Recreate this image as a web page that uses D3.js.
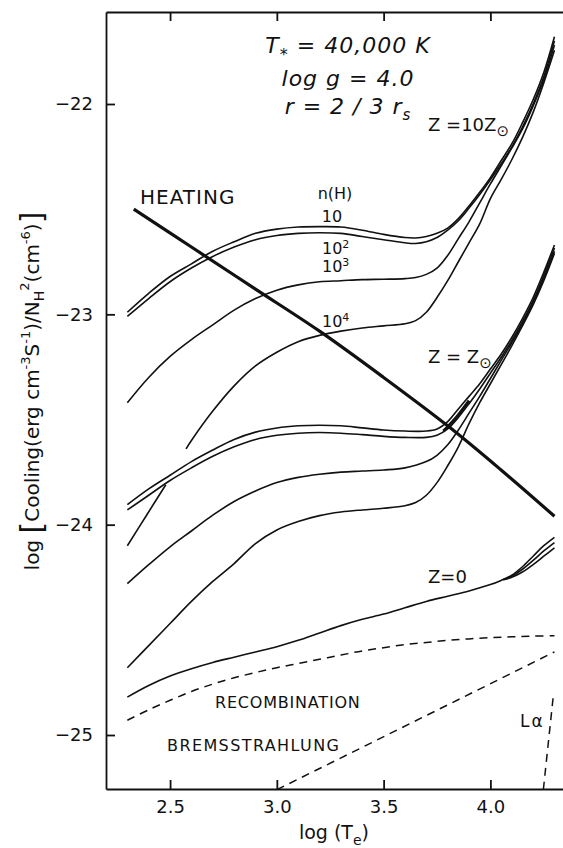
<!DOCTYPE html>
<html>
<head>
<meta charset="utf-8">
<script src="https://cdn.jsdelivr.net/npm/d3@7"></script>
<style>
  html, body { margin: 0; padding: 0; background: #fff; }
  svg { display: block; font-family: "DejaVu Sans", sans-serif; }
  .curve { fill: none; stroke: #111; stroke-width: 1.6; }
  .dash { fill: none; stroke: #111; stroke-width: 1.5; stroke-dasharray: 8 6; }
  .axis path, .axis line { stroke: #111; stroke-width: 1.8; }
  .axis text { font-family: "DejaVu Sans", sans-serif; font-size: 18px; fill: #111; }
</style>
</head>
<body>
<div id="chart"></div>
<script>
// tick values
var xTicks = [2.5, 3.0, 3.5, 4.0];
var yTicks = [-22, -23, -24, -25];

// Z = 10 Z_sun, n(H) = 10, 10^2, 10^3, 10^4
var z10_n1 = [[2.3,-22.99],[2.4,-22.90],[2.5,-22.82],[2.6,-22.76],[2.7,-22.70],[2.8,-22.655],[2.9,-22.615],[3.0,-22.595],[3.1,-22.585],[3.2,-22.583],[3.3,-22.585],[3.4,-22.60],[3.5,-22.62],[3.6,-22.635],[3.65,-22.637],[3.7,-22.63],[3.75,-22.615],[3.8,-22.59],[3.85,-22.545],[3.9,-22.485],[3.95,-22.42],[4.0,-22.35],[4.05,-22.27],[4.1,-22.19],[4.15,-22.09],[4.2,-21.98],[4.25,-21.85],[4.3,-21.68]];
var z10_n2 = [[2.3,-23.01],[2.4,-22.925],[2.5,-22.845],[2.6,-22.78],[2.7,-22.725],[2.8,-22.68],[2.9,-22.645],[3.0,-22.625],[3.1,-22.615],[3.2,-22.612],[3.3,-22.615],[3.4,-22.63],[3.5,-22.645],[3.6,-22.66],[3.65,-22.663],[3.7,-22.655],[3.75,-22.635],[3.8,-22.60],[3.85,-22.555],[3.9,-22.495],[3.95,-22.43],[4.0,-22.36],[4.05,-22.285],[4.1,-22.205],[4.15,-22.11],[4.2,-22.0],[4.25,-21.87],[4.3,-21.70]];
var z10_n3 = [[2.3,-23.42],[2.4,-23.30],[2.5,-23.20],[2.6,-23.12],[2.7,-23.05],[2.8,-22.98],[2.9,-22.925],[3.0,-22.885],[3.1,-22.86],[3.2,-22.845],[3.3,-22.84],[3.4,-22.835],[3.5,-22.833],[3.6,-22.83],[3.65,-22.825],[3.7,-22.81],[3.75,-22.78],[3.8,-22.72],[3.85,-22.64],[3.9,-22.56],[3.95,-22.47],[4.0,-22.38],[4.05,-22.295],[4.1,-22.21],[4.15,-22.12],[4.2,-22.01],[4.25,-21.885],[4.3,-21.72]];
var z10_n4 = [[2.575,-23.64],[2.6,-23.60],[2.7,-23.46],[2.8,-23.34],[2.9,-23.245],[3.0,-23.18],[3.1,-23.13],[3.2,-23.10],[3.3,-23.08],[3.4,-23.065],[3.5,-23.055],[3.6,-23.045],[3.65,-23.03],[3.7,-22.99],[3.75,-22.92],[3.8,-22.84],[3.85,-22.75],[3.9,-22.66],[3.95,-22.57],[4.0,-22.45],[4.05,-22.36],[4.1,-22.265],[4.15,-22.16],[4.2,-22.04],[4.25,-21.90],[4.3,-21.745]];

// Z = Z_sun
var zsun_n1 = [[2.3,-23.905],[2.4,-23.83],[2.5,-23.765],[2.6,-23.70],[2.7,-23.645],[2.8,-23.595],[2.9,-23.56],[3.0,-23.54],[3.1,-23.53],[3.2,-23.527],[3.3,-23.53],[3.4,-23.54],[3.5,-23.55],[3.6,-23.555],[3.7,-23.555],[3.75,-23.545],[3.8,-23.51],[3.85,-23.45],[3.9,-23.39],[3.95,-23.33],[4.0,-23.26],[4.05,-23.19],[4.1,-23.11],[4.15,-23.02],[4.2,-22.92],[4.25,-22.80],[4.3,-22.67]];
var zsun_n2 = [[2.3,-23.93],[2.4,-23.86],[2.5,-23.79],[2.6,-23.73],[2.7,-23.675],[2.8,-23.63],[2.9,-23.595],[3.0,-23.575],[3.1,-23.565],[3.2,-23.562],[3.3,-23.565],[3.4,-23.572],[3.5,-23.58],[3.6,-23.585],[3.7,-23.585],[3.75,-23.575],[3.8,-23.545],[3.85,-23.49],[3.9,-23.425],[3.95,-23.355],[4.0,-23.28],[4.05,-23.205],[4.1,-23.125],[4.15,-23.035],[4.2,-22.935],[4.25,-22.815],[4.3,-22.685]];
var zsun_n3 = [[2.3,-24.28],[2.4,-24.19],[2.5,-24.105],[2.6,-24.03],[2.7,-23.955],[2.8,-23.89],[2.9,-23.84],[3.0,-23.80],[3.1,-23.775],[3.2,-23.76],[3.3,-23.75],[3.4,-23.745],[3.5,-23.74],[3.6,-23.73],[3.7,-23.70],[3.75,-23.67],[3.8,-23.62],[3.85,-23.55],[3.9,-23.47],[3.95,-23.39],[4.0,-23.305],[4.05,-23.22],[4.1,-23.135],[4.15,-23.045],[4.2,-22.945],[4.25,-22.83],[4.3,-22.70]];
var zsun_n4 = [[2.3,-24.68],[2.4,-24.575],[2.5,-24.47],[2.6,-24.365],[2.7,-24.27],[2.8,-24.185],[2.9,-24.09],[3.0,-24.025],[3.1,-23.985],[3.2,-23.957],[3.3,-23.94],[3.4,-23.93],[3.5,-23.922],[3.6,-23.91],[3.65,-23.895],[3.7,-23.86],[3.75,-23.80],[3.8,-23.72],[3.85,-23.63],[3.9,-23.52],[3.95,-23.42],[4.0,-23.33],[4.05,-23.24],[4.1,-23.15],[4.15,-23.055],[4.2,-22.955],[4.25,-22.84],[4.3,-22.71]];
var zsun_low = [[2.3,-24.10],[2.39,-23.955],[2.48,-23.81]];
var zsun_kink = [[3.78,-23.555],[3.84,-23.49],[3.9,-23.41]];

// Z = 0
var z0_main = [[2.3,-24.82],[2.4,-24.765],[2.5,-24.72],[2.6,-24.685],[2.7,-24.655],[2.8,-24.63],[2.9,-24.605],[3.0,-24.58],[3.1,-24.55],[3.2,-24.515],[3.3,-24.48],[3.4,-24.45],[3.5,-24.425],[3.6,-24.395],[3.7,-24.365],[3.8,-24.34],[3.9,-24.315],[4.0,-24.285],[4.05,-24.265],[4.1,-24.24],[4.15,-24.20],[4.2,-24.15],[4.25,-24.10],[4.3,-24.06]];
var z0_b = [[4.06,-24.262],[4.1,-24.245],[4.15,-24.212],[4.2,-24.17],[4.25,-24.125],[4.3,-24.085]];
var z0_c = [[4.06,-24.262],[4.1,-24.25],[4.15,-24.225],[4.2,-24.19],[4.25,-24.15],[4.3,-24.11]];

// heating and the H processes
var heating = [[2.33,-22.50],[2.6,-22.68],[2.9,-22.88],[3.2,-23.08],[3.5,-23.30],[3.8,-23.53],[4.05,-23.74],[4.3,-23.96]];
var recombination = [[2.3,-24.93],[2.4,-24.88],[2.5,-24.835],[2.6,-24.793],[2.7,-24.758],[2.8,-24.728],[2.9,-24.703],[3.0,-24.68],[3.1,-24.66],[3.2,-24.64],[3.3,-24.62],[3.4,-24.60],[3.5,-24.585],[3.6,-24.57],[3.7,-24.56],[3.8,-24.55],[3.9,-24.543],[4.0,-24.537],[4.1,-24.533],[4.2,-24.53],[4.3,-24.528]];
var bremsstrahlung = [[3.0,-25.26],[4.3,-24.605]];
var lyAlpha = [[4.248,-25.26],[4.296,-24.80]];

var width = 563, height = 848;

var svg = d3.select("#chart").append("svg")
  .attr("width", width)
  .attr("height", height);

var x = d3.scaleLinear().domain([2.2, 4.34]).range([106, 563]);
var y = d3.scaleLinear().domain([-21.5626, -25.2567]).range([12, 789]);

svg.append("clipPath").attr("id", "plotclip")
  .append("rect")
  .attr("x", x(2.2)).attr("y", y(-21.5626))
  .attr("width", x(4.34) - x(2.2)).attr("height", y(-25.2567) - y(-21.5626));

// axes, ticks pointing inward
svg.append("g").attr("class", "axis")
  .attr("transform", "translate(0," + y(-25.2567) + ")")
  .call(d3.axisBottom(x).tickValues(xTicks).tickFormat(d3.format(".1f"))
    .tickSizeInner(-9).tickSizeOuter(0).tickPadding(11));

svg.append("g").attr("class", "axis")
  .attr("transform", "translate(0," + y(-21.5626) + ")")
  .call(d3.axisTop(x).tickValues(xTicks).tickFormat("")
    .tickSizeInner(-9).tickSizeOuter(0));

svg.append("g").attr("class", "axis")
  .attr("transform", "translate(" + x(2.2) + ",0)")
  .call(d3.axisLeft(y).tickValues(yTicks).tickFormat(function(d) { return "\u2212" + Math.abs(d); })
    .tickSizeInner(-9).tickSizeOuter(0).tickPadding(13));

var line = d3.line()
  .x(function(d) { return x(d[0]); })
  .y(function(d) { return y(d[1]); })
  .curve(d3.curveCatmullRom.alpha(0.5));

var straight = d3.line()
  .x(function(d) { return x(d[0]); })
  .y(function(d) { return y(d[1]); });

var plot = svg.append("g").attr("clip-path", "url(#plotclip)");

var solid = [z10_n1, z10_n2, z10_n3, z10_n4, zsun_n1, zsun_n2, zsun_n3, zsun_n4, zsun_low, z0_main, z0_b, z0_c];
plot.selectAll("path.curve")
  .data(solid)
  .enter().append("path")
    .attr("class", "curve")
    .attr("d", line);

plot.append("path").attr("class", "curve")
  .attr("d", line(zsun_kink)).style("stroke-width", 3);

plot.append("path").attr("class", "curve")
  .attr("d", line(heating)).style("stroke-width", 3.2);

plot.append("path").attr("class", "dash").attr("d", line(recombination));
plot.append("path").attr("class", "dash").attr("d", straight(bremsstrahlung));
plot.append("path").attr("class", "dash").attr("d", straight(lyAlpha));

// labels
function label(txt, px, py, size, opts) {
  var t = svg.append("text")
    .attr("x", px).attr("y", py)
    .attr("font-size", size)
    .attr("fill", "#111")
    .text(txt);
  if (opts && opts.anchor) t.attr("text-anchor", opts.anchor);
  if (opts && opts.spacing) t.attr("letter-spacing", opts.spacing);
  if (opts && opts.italic) t.attr("font-style", "italic");
  return t;
}

// parameter block
var p1 = svg.append("text").attr("x", 348).attr("y", 53).attr("text-anchor", "middle")
  .attr("font-size", 22).attr("font-style", "italic").attr("letter-spacing", 1).attr("fill", "#111");
p1.append("tspan").text("T");
p1.append("tspan").attr("font-size", 16).attr("dy", 7).text("*");
p1.append("tspan").attr("dy", -7).text(" = 40,000  K");

label("log g = 4.0", 348, 86, 22, {anchor: "middle", italic: true, spacing: 1});

var p3 = svg.append("text").attr("x", 348).attr("y", 114).attr("text-anchor", "middle")
  .attr("font-size", 22).attr("font-style", "italic").attr("letter-spacing", 1).attr("fill", "#111");
p3.append("tspan").text("r = 2 / 3  r");
p3.append("tspan").attr("font-size", 15).attr("dy", 6).text("s");

label("HEATING", 140, 204, 20, {spacing: 1});
label("n(H)", 335, 199, 16, {anchor: "middle"});
label("10", 332, 222, 16, {anchor: "middle"});

function power(px, py, exp) {
  var t = svg.append("text").attr("x", px).attr("y", py).attr("font-size", 16).attr("fill", "#111");
  t.append("tspan").text("10");
  t.append("tspan").attr("font-size", 11).attr("dy", -6).text(exp);
}
power(322, 254, "2");
power(322, 272, "3");
power(322, 327, "4");

function zlabel(txt, px, py, sun) {
  var t = svg.append("text").attr("x", px).attr("y", py).attr("font-size", 18).attr("fill", "#111");
  t.append("tspan").text(txt);
  if (sun) t.append("tspan").attr("font-size", 15).attr("dy", 5).text("\u2299");
}
zlabel("Z =10Z", 428, 131, true);
zlabel("Z = Z", 428, 363, true);
zlabel("Z=0", 428, 583, false);

label("RECOMBINATION", 215, 708, 16, {spacing: 0.8});
label("BREMSSTRAHLUNG", 167, 751, 16, {spacing: 1.4});
label("L\u03b1", 520, 727, 17, {spacing: 2});

// x label
var xl = svg.append("text").attr("x", 334).attr("y", 839).attr("text-anchor", "middle")
  .attr("font-size", 19).attr("fill", "#111");
xl.append("tspan").text("log (T");
xl.append("tspan").attr("font-size", 14).attr("dy", 6).text("e");
xl.append("tspan").attr("dy", -6).text(")");

// y label
var yl = svg.append("text")
  .attr("transform", "translate(39,391) rotate(-90)")
  .attr("text-anchor", "middle")
  .attr("font-size", 20).attr("fill", "#111");
yl.append("tspan").text("log  ");
yl.append("tspan").attr("font-size", 30).attr("dy", 3).text("[");
yl.append("tspan").attr("dy", -3).text("Cooling(erg cm");
yl.append("tspan").attr("font-size", 13).attr("dy", -9).text("-3");
yl.append("tspan").attr("dy", 9).text("S");
yl.append("tspan").attr("font-size", 13).attr("dy", -9).text("-1");
yl.append("tspan").attr("dy", 9).text(")/N");
yl.append("tspan").attr("font-size", 14).attr("dy", 5).text("H");
yl.append("tspan").attr("font-size", 13).attr("dy", -15).text("2");
yl.append("tspan").attr("dy", 10).text("(cm");
yl.append("tspan").attr("font-size", 13).attr("dy", -9).text("-6");
yl.append("tspan").attr("dy", 9).text(")");
yl.append("tspan").attr("font-size", 30).attr("dy", 3).text("]");
</script>
</body>
</html>
